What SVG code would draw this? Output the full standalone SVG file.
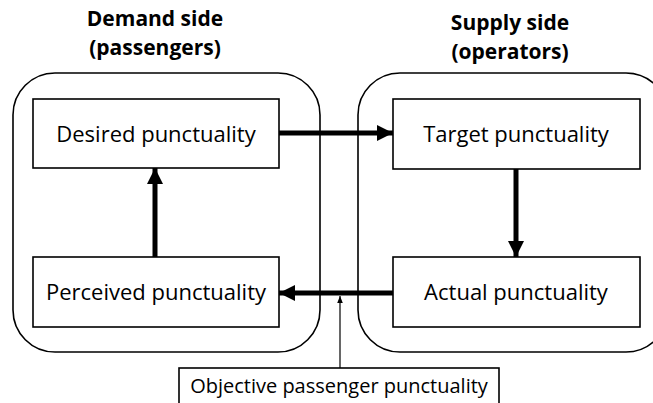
<svg xmlns="http://www.w3.org/2000/svg" width="653" height="403" viewBox="0 0 653 403">
<style>
.box{fill:#fff;stroke:#000;stroke-width:1.6}
.cont{fill:none;stroke:#000;stroke-width:1.6}
.lbl{font-family:"Open Sans",sans-serif;font-size:22px;fill:#000;text-anchor:middle}
.ttl{font-family:"Open Sans",sans-serif;font-size:21px;font-weight:bold;fill:#000;text-anchor:middle}
.thick{stroke:#000;stroke-width:5;fill:none}
.thin{stroke:#000;stroke-width:1.2;fill:none}
</style>
<defs>
<marker id="ah" viewBox="0 0 10 10" refX="10" refY="5" markerWidth="3.2" markerHeight="3.4" orient="auto" markerUnits="strokeWidth">
<path d="M0,0 L10,5 L0,10 Z" fill="#000"/>
</marker>
<marker id="ahs" viewBox="0 0 10 10" refX="10" refY="5" markerWidth="6" markerHeight="6" orient="auto" markerUnits="strokeWidth">
<path d="M0,1 L10,5 L0,9 Z" fill="#000"/>
</marker>
</defs>
<g id="demand-side">
<rect class="cont" x="13" y="73" width="307" height="279" rx="42"/>
<text class="ttl" x="155" y="26">Demand side</text>
<text class="ttl" x="155" y="55">(passengers)</text>
</g>
<g id="supply-side">
<rect class="cont" x="358" y="73" width="310" height="279" rx="42"/>
<text class="ttl" x="510" y="30">Supply side</text>
<text class="ttl" x="510" y="59">(operators)</text>
</g>
<g id="desired">
<rect class="box" x="33" y="99" width="246" height="69"/>
<text class="lbl" x="156" y="142">Desired punctuality</text>
</g>
<g id="target">
<rect class="box" x="393" y="99" width="247" height="70"/>
<text class="lbl" x="516" y="142">Target punctuality</text>
</g>
<g id="perceived">
<rect class="box" x="33" y="257" width="246" height="70"/>
<text class="lbl" x="156" y="300">Perceived punctuality</text>
</g>
<g id="actual">
<rect class="box" x="393" y="257" width="247" height="70"/>
<text class="lbl" x="516" y="300">Actual punctuality</text>
</g>
<g id="objective">
<rect class="box" x="179" y="368" width="320" height="45"/>
<text class="lbl" x="339" y="393" style="font-size:20px">Objective passenger punctuality</text>
</g>
<g id="connectors">
<line class="thick" x1="279" y1="133" x2="393" y2="133" marker-end="url(#ah)"/>
<line class="thick" x1="516" y1="169" x2="516" y2="257" marker-end="url(#ah)"/>
<line class="thick" x1="393" y1="293" x2="279" y2="293" marker-end="url(#ah)"/>
<line class="thick" x1="155" y1="257" x2="155" y2="168" marker-end="url(#ah)"/>
<line class="thin" x1="340" y1="368" x2="340" y2="296" marker-end="url(#ahs)"/>
</g>
</svg>
